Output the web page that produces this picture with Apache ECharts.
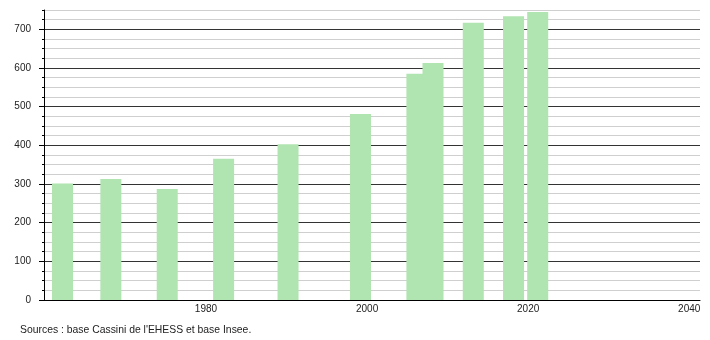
<!DOCTYPE html>
<html>
<head>
<meta charset="utf-8">
<script src="https://cdn.jsdelivr.net/npm/echarts@6/dist/echarts.min.js"></script>
<style>html,body{margin:0;padding:0;background:#fff}#c{width:710px;height:340px}</style>
</head>
<body>
<div id="c"></div>
<script>
var years = [1962, 1968, 1975, 1982, 1990, 1999, 2006, 2008, 2013, 2018, 2021];
var population = [301, 313, 287, 365, 403, 481, 585, 613, 717, 734, 745];
var xTickLabels = [1980, 2000, 2020, 2040];
var yTickLabels = [0, 100, 200, 300, 400, 500, 600, 700];
var sourceText = "Sources : base Cassini de l'EHESS et base Insee.";

var chart = echarts.init(document.getElementById('c'), null, {renderer: 'canvas'});
var font = 'Liberation Sans, Arial, sans-serif';
chart.setOption({
  animation: false,
  backgroundColor: '#fff',
  title: {
    text: sourceText, left: 15, top: 320,
    textStyle: {fontSize: 10.4, fontWeight: 'normal', color: '#222', fontFamily: font}
  },
  grid: {left: 44, right: 10, top: 10, bottom: 40, containLabel: false},
  xAxis: {
    type: 'value', min: 1959.7, max: 2041.15,
    splitLine: {show: false},
    axisLine: {show: true, lineStyle: {color: '#000', width: 1}},
    axisTick: {show: false},
    axisLabel: {customValues: xTickLabels, margin: 4, fontSize: 10, color: '#222', fontFamily: font,
      padding: [0, 3, 0, 0],
      formatter: function (v) { return String(Math.round(v)); }}
  },
  yAxis: [{
    type: 'value', position: 'left', min: 0, max: 750, interval: 25,
    axisLine: {show: true, lineStyle: {color: '#000', width: 1}},
    axisTick: {show: true, length: 2, lineStyle: {color: '#000'}},
    splitLine: {show: true, lineStyle: {color: ['#333', '#cfcfcf', '#cfcfcf', '#cfcfcf'], width: 1}},
    axisLabel: {customValues: yTickLabels, margin: 13, fontSize: 10, color: '#222', fontFamily: font,
      formatter: function (v) { return String(Math.round(v)); }}
  }, {
    type: 'value', position: 'left', offset: 0, min: 0, max: 750, interval: 25,
    axisLine: {show: false},
    splitLine: {show: false},
    axisLabel: {show: false},
    axisTick: {show: true, customValues: yTickLabels, length: 5, lineStyle: {color: '#000'}}
  }],
  series: [{
    type: 'bar',
    barWidth: 21,
    itemStyle: {color: '#b0e4b0'},
    data: years.map(function (y, i) { return [y, population[i]]; })
  }]
});
</script>
</body>
</html>
